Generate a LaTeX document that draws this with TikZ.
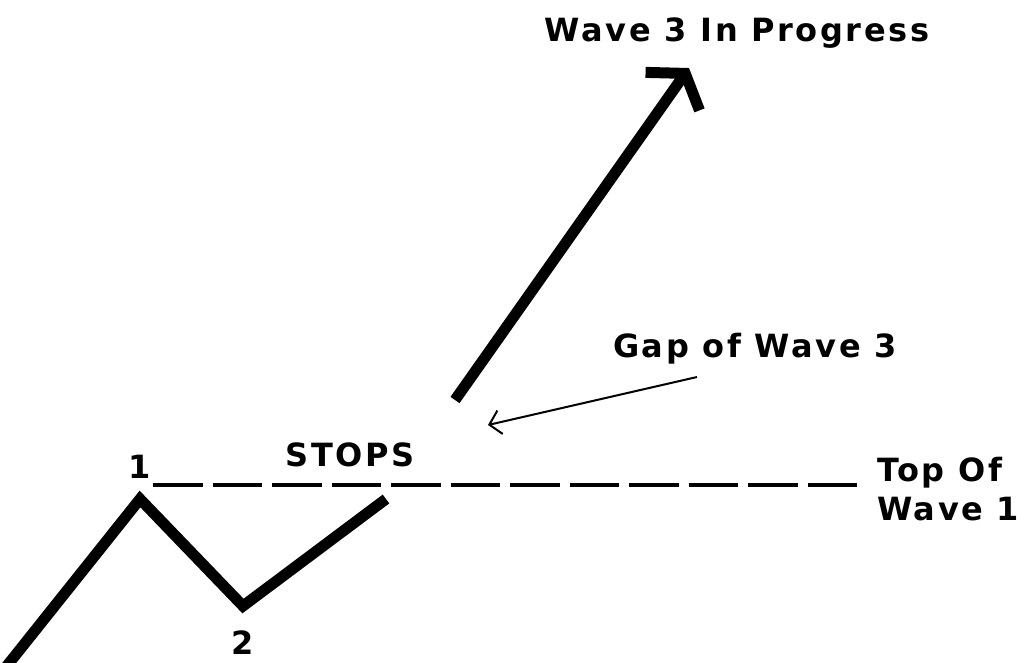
\documentclass[tikz,border=0pt]{standalone}
\usepackage{fontspec}
\newfontfamily\chartfont{DejaVu Sans}[LetterSpace=8]
\usetikzlibrary{arrows.meta}

\begin{document}
\begin{tikzpicture}[
    x=1pt, y=-1pt,
    wave/.style={line width=11pt, line join=miter},
    bigarrow/.style={line width=11pt, -{Straight Barb[length=22pt, width=66pt]}},
    levelline/.style={line width=4pt, dash pattern=on 49.5pt off 10pt},
    pointer/.style={line width=2pt, -{Straight Barb[length=11pt, width=24pt]}},
    wavetext/.style={font=\chartfont\bfseries\fontsize{32}{39}\selectfont, inner sep=0pt}
]
    \useasboundingbox (0,0) rectangle (1030,662);

    % Wave points
    \coordinate (w0) at (2,672);
    \coordinate (p1) at (140,499);
    \coordinate (p2) at (243,606);
    \coordinate (w2end) at (386,499);

    % Wave 3
    \coordinate (w3start) at (455,400);
    \coordinate (w3tip) at (689,68);

    % Top of wave 1
    \coordinate (lvlstart) at (153,485);
    \coordinate (lvlend) at (857,485);

    % Gap pointer
    \coordinate (gapfrom) at (697,377);
    \coordinate (gapto) at (488,425);

    % Labels
    \node[wavetext, anchor=base] (title) at (737,41) {Wave 3 In Progress};
    \node[wavetext, anchor=base] (gaptext) at (755,357) {Gap of Wave 3};
    \node[wavetext, anchor=base] (stops) at (350,466) {STOPS};
    \node[wavetext, anchor=base] (n1) at (140,478) {1};
    \node[wavetext, anchor=base] (n2) at (243,654) {2};
    \node[wavetext, anchor=north west, align=left] (toptext) at (877,457) {Top Of\\Wave 1};

    % Lines
    \draw[wave] (w0) -- (p1) -- (p2) -- (w2end);
    \draw[bigarrow] (w3start) -- (w3tip);
    \draw[levelline] (lvlstart) -- (lvlend);
    \draw[pointer] (gapfrom) -- (gapto);

\end{tikzpicture}
\end{document}
